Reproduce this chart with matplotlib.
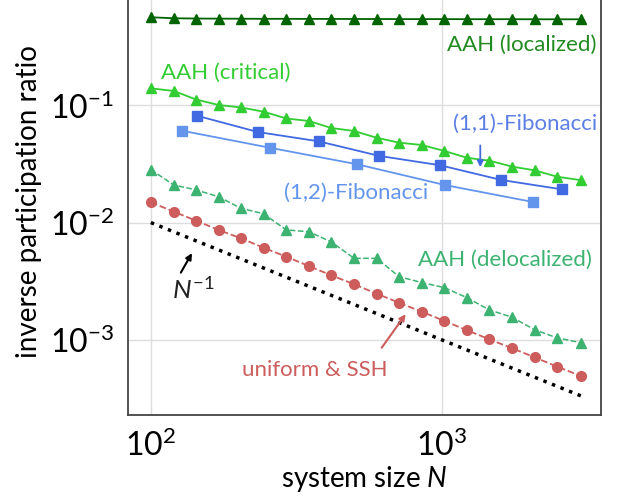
import numpy as np
import matplotlib
matplotlib.use('Agg')
import matplotlib.pyplot as plt

plt.rcParams['font.family'] = ['Lato', 'DejaVu Sans']
plt.rcParams['mathtext.fontset'] = 'custom'
plt.rcParams['mathtext.rm'] = 'Lato'
plt.rcParams['mathtext.it'] = 'Lato:italic'

# system sizes
N = [100, 120, 143, 171, 204, 244, 292, 349, 417, 499,
     596, 713, 852, 1019, 1218, 1456, 1741, 2081, 2488, 3000]
N_fib11 = [144, 233, 377, 610, 987, 1597, 2584]
N_fib12 = [128, 256, 512, 1024, 2048]

# inverse participation ratio
aah_loc = [0.563, 0.552, 0.549, 0.548, 0.547, 0.546, 0.546, 0.545, 0.545, 0.544,
           0.544, 0.543, 0.543, 0.543, 0.542, 0.542, 0.542, 0.541, 0.541, 0.541]
aah_crit = [0.1396, 0.1324, 0.112, 0.1006, 0.0958, 0.0882, 0.0772, 0.0735, 0.0640, 0.0604,
            0.0529, 0.0480, 0.0459, 0.0408, 0.0357, 0.0337, 0.0300, 0.0279, 0.0246, 0.0230]
fib11 = [0.0815, 0.0592, 0.0493, 0.0370, 0.0308, 0.0231, 0.0192]
fib12 = [0.0607, 0.0435, 0.0314, 0.0209, 0.0150]
aah_deloc = [0.0283, 0.0209, 0.0190, 0.0166, 0.01324, 0.0119, 0.00865, 0.00836, 0.00684, 0.00496,
             0.00496, 0.00346, 0.00308, 0.00279, 0.00229, 0.0018, 0.00156, 0.00122, 0.00104, 0.000946]
uniform = [0.0149, 0.01239, 0.01038, 0.00865, 0.00735, 0.0061, 0.00512, 0.00426, 0.00355, 0.00298,
           0.00248, 0.00207, 0.00174, 0.00145, 0.00121, 0.00101, 0.000848, 0.000711, 0.000591, 0.000492]

# N^-1 reference line
N_ref = [100, 3000]
ref = [0.01, 1 / 3000]

fig = plt.figure(figsize=(6.19, 5.01), dpi=100)
ax = fig.add_axes([0.2068, 0.1717, 0.7645, 0.850])

ax.plot(N, aah_loc, '-^', color='darkgreen', ms=7, lw=1.3)
ax.plot(N, aah_crit, '-^', color='limegreen', ms=7, lw=1.3)
ax.plot(N_fib11, fib11, '-s', color='royalblue', ms=6.5, lw=1.3)
ax.plot(N_fib12, fib12, '-s', color='cornflowerblue', ms=6.5, lw=1.3)
ax.plot(N, aah_deloc, '--^', color='mediumseagreen', ms=7, lw=1.1)
ax.plot(N, uniform, '--o', color='indianred', ms=7, lw=1.3)
ax.plot(N_ref, ref, ':', color='black', lw=2.5)

ax.set_xscale('log')
ax.set_yscale('log')
ax.set_xlim(83.5, 3524)
ax.set_ylim(2.29e-4, 0.978)
ax.grid(True, color='#dddddd', lw=1)
ax.minorticks_off()
ax.tick_params(length=0, labelsize=23, pad=10)
ax.spines['top'].set_visible(False)
for s in ['left', 'right', 'bottom']:
    ax.spines[s].set_color('#444444')
    ax.spines[s].set_linewidth(1.3)

ax.set_xlabel('system size $N$', fontsize=20, labelpad=2)
ax.set_ylabel('inverse participation ratio', fontsize=20, labelpad=6)

fs = 16
ax.text(1873, 0.327, 'AAH (localized)', color='forestgreen', fontsize=fs, ha='center', va='center')
ax.text(181, 0.1886, 'AAH (critical)', color='limegreen', fontsize=fs, ha='center', va='center')
ax.text(1932, 0.0693, '(1,1)-Fibonacci', color='royalblue', fontsize=fs, ha='center', va='center',
        alpha=0.85)
ax.text(509, 0.0179, '(1,2)-Fibonacci', color='cornflowerblue', fontsize=fs, ha='center', va='center')
ax.text(1650, 0.0048, 'AAH (delocalized)', color='mediumseagreen', fontsize=fs, ha='center', va='center')
ax.text(367, 0.000554, 'uniform & SSH', color='indianred', fontsize=fs, ha='center', va='center')
ax.text(140, 0.00266, '$N^{-1}$', color='#222222', fontsize=fs + 3, ha='center', va='center')

ax.annotate('', xy=(1354, 0.0281), xytext=(1354, 0.048),
            arrowprops=dict(arrowstyle='-|>', color='royalblue', lw=1.3, mutation_scale=9))
ax.annotate('', xy=(140, 0.00576), xytext=(125.4, 0.00357),
            arrowprops=dict(arrowstyle='-|>', color='black', lw=1.5, mutation_scale=9))
ax.annotate('', xy=(760, 0.00173), xytext=(613, 0.00082),
            arrowprops=dict(arrowstyle='-|>', color='indianred', lw=1.5, mutation_scale=9))

fig.savefig('out.png', dpi=100)
